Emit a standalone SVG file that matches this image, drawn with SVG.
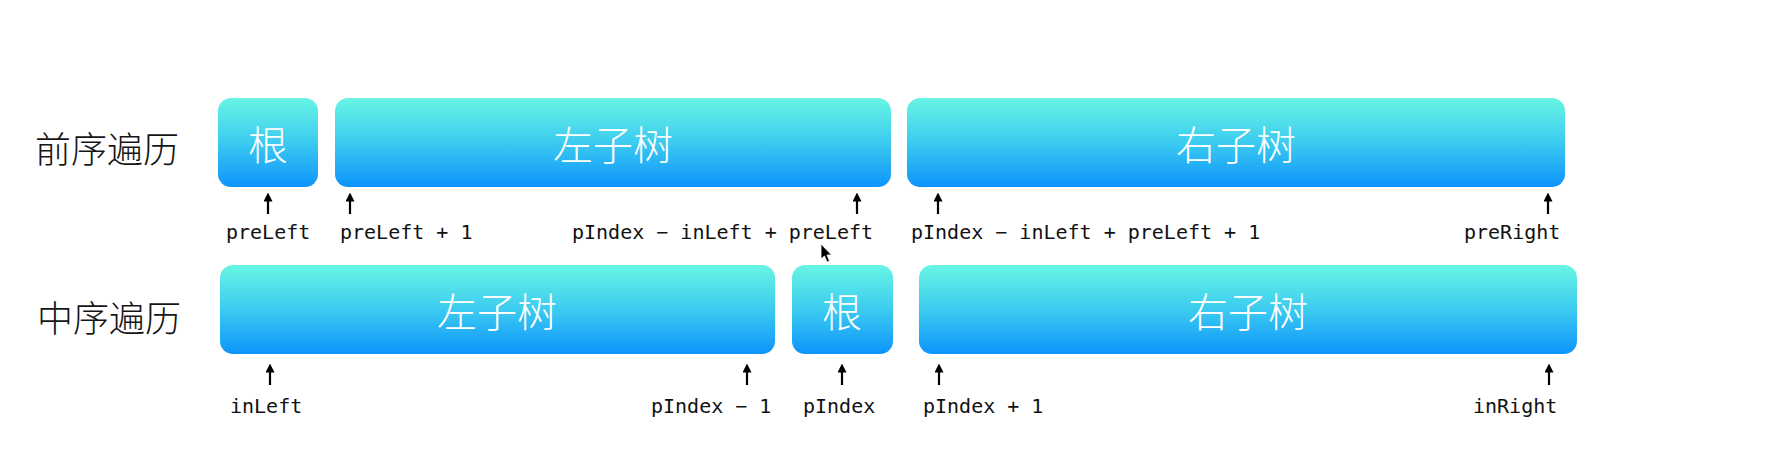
<svg xmlns="http://www.w3.org/2000/svg" width="1781" height="461" viewBox="0 0 1781 461">
<defs>
<linearGradient id="g" x1="0" y1="0" x2="0" y2="1">
<stop offset="0" stop-color="#68f5e4"/>
<stop offset="0.5" stop-color="#3ccbf0"/>
<stop offset="1" stop-color="#0d94fb"/>
</linearGradient>
<marker id="ah" viewBox="0 0 10 10" refX="5" refY="5" markerWidth="9" markerHeight="9" markerUnits="userSpaceOnUse" orient="auto">
<path d="M0,0 L10,5 L0,10 z" fill="#000"/>
</marker>
<style>
.box{fill:url(#g);}
.bt{font-family:"Noto Sans CJK SC","Noto Sans",sans-serif;font-size:40px;fill:#fff;text-anchor:middle;dominant-baseline:central;font-weight:300;}
.row{font-family:"Noto Sans CJK SC","Noto Sans",sans-serif;font-size:36px;fill:#151515;dominant-baseline:central;font-weight:300;}
.lbl{font-family:"DejaVu Sans Mono","Liberation Mono",monospace;font-size:20px;fill:#111;}
.ar{stroke:#000;stroke-width:2.2;fill:none;marker-end:url(#ah);}
</style>
</defs>
<rect width="1781" height="461" fill="#fff"/>
<text class="row" x="35" y="147">前序遍历</text>
<text class="row" x="37" y="316">中序遍历</text>
<g id="pre-root"><rect class="box" x="218" y="98" width="100" height="89" rx="13"/><text class="bt" x="268" y="143">根</text></g>
<g id="pre-left"><rect class="box" x="335" y="98" width="556" height="89" rx="13"/><text class="bt" x="613" y="143">左子树</text></g>
<g id="pre-right"><rect class="box" x="907" y="98" width="658" height="89" rx="13"/><text class="bt" x="1236" y="143">右子树</text></g>
<g id="in-left"><rect class="box" x="220" y="265" width="555" height="89" rx="13"/><text class="bt" x="497" y="310">左子树</text></g>
<g id="in-root"><rect class="box" x="792" y="265" width="101" height="89" rx="13"/><text class="bt" x="842" y="310">根</text></g>
<g id="in-right"><rect class="box" x="919" y="265" width="658" height="89" rx="13"/><text class="bt" x="1248" y="310">右子树</text></g>
<g id="connectors">
<line class="ar" x1="268" y1="214" x2="268" y2="197"/>
<line class="ar" x1="350" y1="214" x2="350" y2="197"/>
<line class="ar" x1="857" y1="214" x2="857" y2="197"/>
<line class="ar" x1="938" y1="214" x2="938" y2="197"/>
<line class="ar" x1="1548" y1="214" x2="1548" y2="197"/>
<line class="ar" x1="270" y1="385" x2="270" y2="368"/>
<line class="ar" x1="747" y1="385" x2="747" y2="368"/>
<line class="ar" x1="842" y1="385" x2="842" y2="368"/>
<line class="ar" x1="939" y1="385" x2="939" y2="368"/>
<line class="ar" x1="1549" y1="385" x2="1549" y2="368"/>
</g>
<g id="labels">
<text class="lbl" x="226" y="239">preLeft</text>
<text class="lbl" x="340" y="239">preLeft + 1</text>
<text class="lbl" x="572" y="239">pIndex − inLeft + preLeft</text>
<text class="lbl" x="911" y="239">pIndex − inLeft + preLeft + 1</text>
<text class="lbl" x="1464" y="239">preRight</text>
<text class="lbl" x="230" y="413">inLeft</text>
<text class="lbl" x="651" y="413">pIndex − 1</text>
<text class="lbl" x="803" y="413">pIndex</text>
<text class="lbl" x="923" y="413">pIndex + 1</text>
<text class="lbl" x="1473" y="413">inRight</text>
</g>
<path d="M821,244 L821,259 L824.5,256 L827,262 L829.5,261 L827,255 L831.5,255 Z" fill="#000" stroke="#fff" stroke-width="0.8"/>
</svg>
